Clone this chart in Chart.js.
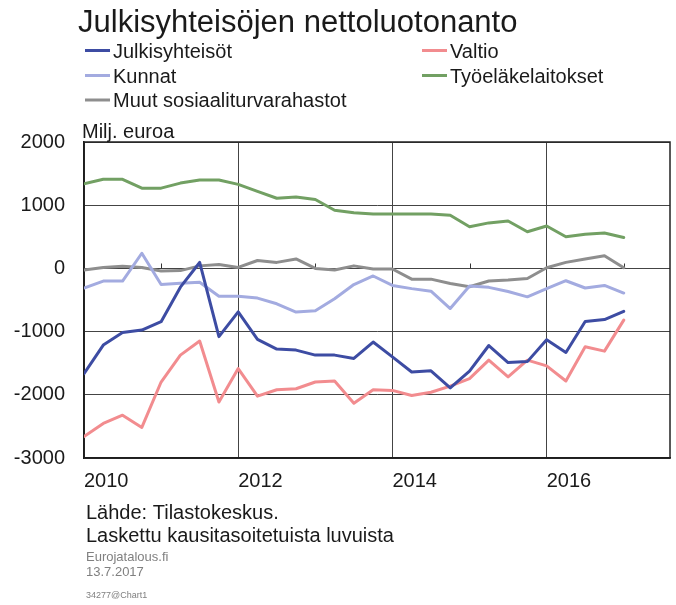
<!DOCTYPE html>
<html>
<head>
<meta charset="utf-8">
<script src="https://cdn.jsdelivr.net/npm/chart.js@4.4.1/dist/chart.umd.min.js"></script>
<style>
    html, body { margin: 0; padding: 0; background: #fff; }
    canvas { display: block; }
</style>
</head>
<body>
<canvas id="chart01" width="676" height="605"></canvas>
<script>
// Neljännekset 2010Q1 - 2017Q1
const quarters = [
    '2010Q1', '2010Q2', '2010Q3', '2010Q4',
    '2011Q1', '2011Q2', '2011Q3', '2011Q4',
    '2012Q1', '2012Q2', '2012Q3', '2012Q4',
    '2013Q1', '2013Q2', '2013Q3', '2013Q4',
    '2014Q1', '2014Q2', '2014Q3', '2014Q4',
    '2015Q1', '2015Q2', '2015Q3', '2015Q4',
    '2016Q1', '2016Q2', '2016Q3', '2016Q4',
    '2017Q1'
];

const julkisyhteisot = [-1665, -1213, -1016, -975, -844, -297, 94, -1080, -688, -1122, -1277, -1293, -1372, -1372, -1425, -1165, -1400, -1640, -1620, -1890, -1625, -1220, -1490, -1475, -1130, -1330, -840, -810, -680];
const valtio = [-2661, -2453, -2323, -2516, -1798, -1372, -1149, -2115, -1585, -2021, -1920, -1904, -1798, -1782, -2133, -1920, -1930, -2010, -1960, -1862, -1745, -1452, -1718, -1452, -1543, -1782, -1239, -1309, -818];
const kunnat = [-310, -200, -200, 240, -255, -235, -220, -440, -440, -470, -560, -690, -670, -480, -255, -120, -270, -320, -360, -635, -280, -300, -365, -450, -320, -195, -310, -270, -390];
const tyoelakelaitokset = [1340, 1410, 1410, 1270, 1270, 1350, 1400, 1400, 1330, 1220, 1110, 1130, 1090, 920, 880, 860, 860, 860, 860, 840, 660, 720, 750, 580, 670, 500, 540, 560, 490];
const muut = [-25, 15, 35, 15, -40, -35, 40, 60, 15, 125, 95, 150, 0, -25, 40, -10, -10, -170, -170, -240, -290, -200, -185, -160, 10, 95, 150, 200, 10];

const yearTicks = [2010, 2012, 2014, 2016];
const minorYears = [2011, 2013, 2015, 2017];
const yTicks = [-3000, -2000, -1000, 0, 1000, 2000];

const title = 'Julkisyhteisöjen nettoluotonanto';
const unit = 'Milj. euroa';
const footer = ['Lähde: Tilastokeskus.', 'Laskettu kausitasoitetuista luvuista'];
const credit = ['Eurojatalous.fi', '13.7.2017'];
const chartId = '34277@Chart1';

const FONT = "'Liberation Sans', Arial, sans-serif";

// vuosi + neljännes -> x-arvo
function qx(q) {
    return Number(q.slice(0, 4)) + (Number(q.slice(5)) - 1) / 4;
}

function series(label, values, color) {
    return {
        label: label,
        data: values.map((v, i) => ({x: qx(quarters[i]), y: v})),
        borderColor: color,
        backgroundColor: color,
        borderWidth: 3,
        pointRadius: 0,
        tension: 0,
        borderJoinStyle: 'round',
        borderCapStyle: 'round'
    };
}

const datasets = [
    series('Julkisyhteisöt', julkisyhteisot, '#3d4ca3'),
    series('Valtio', valtio, '#f28c8f'),
    series('Kunnat', kunnat, '#a3abe0'),
    series('Työeläkelaitokset', tyoelakelaitokset, '#72a063'),
    series('Muut sosiaaliturvarahastot', muut, '#8e8e8e')
];

// kehys, otsikko, selite ja lähdetiedot
const textPlugin = {
    id: 'texts',
    beforeDatasetsDraw(chart) {
        const {ctx, chartArea, scales} = chart;
        ctx.save();
        ctx.strokeStyle = '#222';
        ctx.lineWidth = 1.5;
        ctx.strokeRect(chartArea.left, chartArea.top, chartArea.right - chartArea.left, chartArea.bottom - chartArea.top);
        // pienet väliviivat nollalinjalla
        const y0 = Math.round(scales.y.getPixelForValue(0)) + 0.5;
        ctx.lineWidth = 1;
        ctx.strokeStyle = '#333';
        minorYears.forEach(yr => {
            const x = Math.round(scales.x.getPixelForValue(yr)) + 0.5;
            ctx.beginPath();
            ctx.moveTo(x, y0 - 5);
            ctx.lineTo(x, y0);
            ctx.stroke();
        });
        ctx.restore();
    },
    afterDraw(chart) {
        const ctx = chart.ctx;
        ctx.save();
        ctx.textBaseline = 'alphabetic';
        ctx.textAlign = 'left';
        ctx.fillStyle = '#1a1a1a';

        ctx.font = '31px ' + FONT;
        ctx.fillText(title, 78, 31.5);

        // selite kahdessa sarakkeessa
        const colX = [85, 422];
        const rowY = [57.5, 82.5, 107];
        ctx.font = '20px ' + FONT;
        chart.data.datasets.forEach((ds, i) => {
            const x = colX[i % 2];
            const y = rowY[Math.floor(i / 2)];
            ctx.strokeStyle = ds.borderColor;
            ctx.lineWidth = 3;
            ctx.beginPath();
            ctx.moveTo(x, y - 7);
            ctx.lineTo(x + 25, y - 7);
            ctx.stroke();
            ctx.fillStyle = '#1a1a1a';
            ctx.fillText(ds.label, x + 28, y);
        });

        ctx.fillText(unit, 82, 138);

        ctx.fillText(footer[0], 86, 519);
        ctx.fillText(footer[1], 86, 541.5);

        ctx.fillStyle = '#808080';
        ctx.font = '13px ' + FONT;
        ctx.fillText(credit[0], 86, 560.5);
        ctx.fillText(credit[1], 86, 576);
        ctx.font = '9px ' + FONT;
        ctx.fillText(chartId, 86, 598);
        ctx.restore();
    }
};

new Chart(document.getElementById('chart01'), {
    type: 'line',
    data: {datasets: datasets},
    options: {
        responsive: false,
        animation: false,
        events: [],
        layout: {
            padding: {top: 142, right: 6, bottom: 107, left: 0}
        },
        plugins: {
            legend: {display: false},
            title: {display: false},
            tooltip: {enabled: false}
        },
        scales: {
            x: {
                type: 'linear',
                min: 2010,
                max: 2017.6,
                afterBuildTicks(scale) {
                    scale.ticks = yearTicks.map(v => ({value: v}));
                },
                afterFit(scale) {
                    scale.height = 40;
                },
                grid: {
                    color: '#444',
                    lineWidth: 1,
                    drawTicks: false
                },
                border: {color: '#111', width: 1.5},
                ticks: {
                    callback: v => String(v),
                    align: 'start',
                    autoSkip: false,
                    maxRotation: 0,
                    padding: 11,
                    color: '#1a1a1a',
                    font: {family: FONT, size: 20}
                }
            },
            y: {
                min: -3000,
                max: 2000,
                afterBuildTicks(scale) {
                    scale.ticks = yTicks.map(v => ({value: v}));
                },
                afterFit(scale) {
                    scale.width = 84;
                },
                grid: {
                    color: '#444',
                    lineWidth: 1,
                    drawTicks: false
                },
                border: {color: '#111', width: 1.5},
                ticks: {
                    callback: v => String(v),
                    padding: 19,
                    color: '#1a1a1a',
                    font: {family: FONT, size: 20}
                }
            }
        }
    },
    plugins: [textPlugin]
});
</script>
</body>
</html>
